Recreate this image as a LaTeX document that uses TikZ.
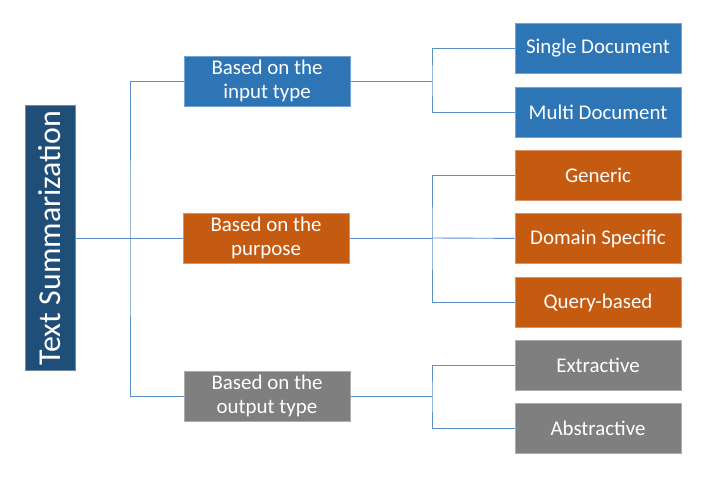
\documentclass[tikz,border=0pt]{standalone}
\usepackage{fontspec}
\setmainfont{Carlito}
\usetikzlibrary{positioning}
\definecolor{rootblue}{HTML}{1F4E79}
\definecolor{catblue}{HTML}{2E75B6}
\definecolor{catorange}{HTML}{C55A11}
\definecolor{catgray}{HTML}{7F7F7F}
\definecolor{linkblue}{HTML}{5B8FCB}

\begin{document}
\begin{tikzpicture}[x=1bp, y=-1bp,
box/.style={rectangle, draw=#1!65!white, fill=#1, text=white, align=center, font=\fontsize{21}{24}\selectfont, minimum width=166bp, minimum height=50bp, inner sep=0pt, line width=0.8bp},
link/.style={draw=linkblue, line width=0.9bp}
]
\useasboundingbox (0,0) rectangle (709,479);

% root
\node[box=rootblue, minimum width=50bp, minimum height=265bp, font=\fontsize{32}{36}\selectfont] (root) at (50,238) {\rotatebox{90}{Text Summarization}};

% categories
\node[box=catblue] (inp) at (267,81) {Based on the\\input type};
\node[box=catorange] (purp) at (266,238) {Based on the\\purpose};
\node[box=catgray] (outp) at (267,396) {Based on the\\output type};

% leaves
\node[box=catblue] (single) at (598,48) {Single Document};
\node[box=catblue, below=14bp of single] (multi) {Multi Document};
\node[box=catorange] (generic) at (598,175) {Generic};
\node[box=catorange, below=13bp of generic] (domain) {Domain Specific};
\node[box=catorange, below=13bp of domain] (query) {Query-based};
\node[box=catgray] (extr) at (598,365) {Extractive};
\node[box=catgray, below=13bp of extr] (abstr) {Abstractive};

\coordinate (bus) at (130,238);
\coordinate (businp) at (432,81);
\coordinate (buspurp) at (432,238);
\coordinate (busoutp) at (432,396);

\draw[link] (root) -- (purp);
\draw[link] (inp.west) -| (bus) |- (outp.west);
\draw[link] (inp) -- (businp);
\draw[link] (single.west) -| (businp) |- (multi.west);
\draw[link] (purp) -- (buspurp);
\draw[link] (generic.west) -| (buspurp) |- (query.west);
\draw[link] (buspurp) -- (domain);
\draw[link] (outp) -- (busoutp);
\draw[link] (extr.west) -| (busoutp) |- (abstr.west);
\end{tikzpicture}
\end{document}
